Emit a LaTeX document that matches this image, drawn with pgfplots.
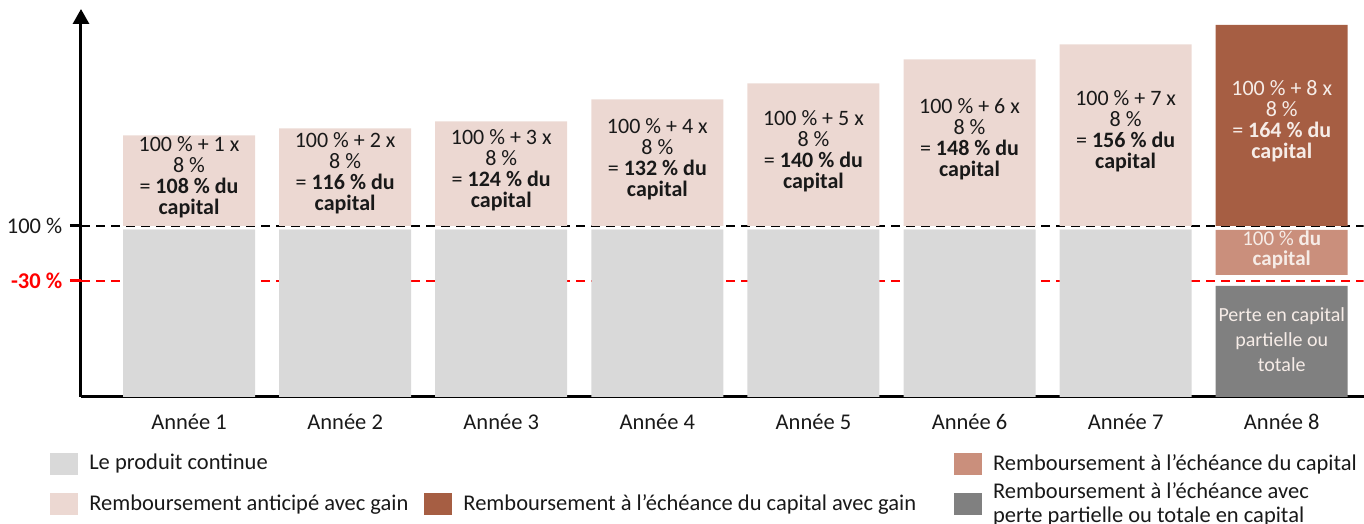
\documentclass[border=0pt]{standalone}
\usepackage{pgfplots}
\pgfplotsset{compat=1.18}
\usepackage{pgfplotstable}
\usepackage{fontspec}
\setmainfont{Carlito}
\usetikzlibrary{arrows.meta}
\definecolor{cgray}{RGB}{217,217,217}
\definecolor{cpink}{RGB}{236,216,210}
\definecolor{cbrown}{RGB}{166,94,67}
\definecolor{csalmon}{RGB}{202,143,124}
\definecolor{cdark}{RGB}{128,128,128}
\definecolor{ctxt}{RGB}{25,25,25}
\definecolor{cwhite}{RGB}{246,236,231}
\definecolor{cred}{RGB}{255,0,0}
\pgfplotstableread{
x lg dk g1 sa g2 pk br
1 167 0 4 0 0 90 0
2 167 0 4 0 0 97 0
3 167 0 4 0 0 104 0
4 167 0 4 0 0 126 0
5 167 0 4 0 0 142 0
6 167 0 4 0 0 166 0
7 167 0 4 0 0 181 0
8 0 111 11 45 4 0 201
}\bars
\tikzset{bt/.style={align=center, font=\fontsize{22}{21}\selectfont, text=ctxt}}
\begin{document}
\fontsize{22.5}{24}\selectfont
\begin{tikzpicture}
\useasboundingbox (0,0) rectangle (1364pt,524pt);
\begin{axis}[
  at={(81pt,127pt)}, anchor=south west,
  x=156.1pt, y=1pt,
  xmin=0.308, xmax=8.525, ymin=0, ymax=388,
  axis x line=bottom, axis y line=left,
  x axis line style={-, line width=3pt},
  y axis line style={-{Triangle[width=16pt,length=15pt]}, line width=3pt},
  tick align=outside,
  xtick={1,...,8},
  xticklabels={Année 1,Année 2,Année 3,Année 4,Année 5,Année 6,Année 7,Année 8},
  xtick style={draw=none},
  xticklabel style={text=ctxt, yshift=2pt},
  ytick={171}, yticklabels={100 \%},
  ytick style={draw=black, line width=3pt},
  major tick length=11pt,
  yticklabel style={text=ctxt},
  extra y ticks={116}, extra y tick labels={-30 \%},
  extra y tick style={ytick style={draw=cred, line width=3pt}, yticklabel style={text=cred, font=\bfseries}},
  bar width=132pt,
  legend columns=3,
  legend style={at={(axis cs:0.11,-55)}, anchor=north west, draw=none, fill=none,
    inner sep=0pt, row sep=5pt,
    cells={anchor=west, align=left, text=ctxt},
    /tikz/every odd column/.append style={column sep=9pt},
    /tikz/column 2/.style={column sep=14pt},
    /tikz/column 4/.style={column sep=36pt}},
  legend image code/.code={\fill[#1] (0pt,-11pt) rectangle (28pt,11pt);},
]
\addplot [cred, line width=1.5pt, dash pattern=on 9pt off 6pt, forget plot] coordinates {(0.308,116) (8.525,116)};
\addplot [black, line width=2pt, dash pattern=on 9pt off 6pt, forget plot] coordinates {(0.308,171) (8.525,171)};
\addplot [ybar, bar shift=0pt, stack plots=y, fill=cgray, draw=none, forget plot] table[x=x,y=lg]{\bars};
\addplot [ybar, bar shift=0pt, stack plots=y, fill=cdark, draw=none, forget plot] table[x=x,y=dk]{\bars};
\addplot [ybar, bar shift=0pt, stack plots=y, fill=none, draw=none, forget plot] table[x=x,y=g1]{\bars};
\addplot [ybar, bar shift=0pt, stack plots=y, fill=csalmon, draw=none, forget plot] table[x=x,y=sa]{\bars};
\addplot [ybar, bar shift=0pt, stack plots=y, fill=none, draw=none, forget plot] table[x=x,y=g2]{\bars};
\addplot [ybar, bar shift=0pt, stack plots=y, fill=cpink, draw=none, forget plot] table[x=x,y=pk]{\bars};
\addplot [ybar, bar shift=0pt, stack plots=y, fill=cbrown, draw=none, forget plot] table[x=x,y=br]{\bars};

\addlegendimage{fill=cgray, draw=none}\addlegendentry{Le produit continue}
\addlegendimage{empty legend}\addlegendentry{}
\addlegendimage{fill=csalmon, draw=none}\addlegendentry{Remboursement à l’échéance du capital}
\addlegendimage{fill=cpink, draw=none}\addlegendentry{Remboursement anticipé avec gain}
\addlegendimage{fill=cbrown, draw=none}\addlegendentry{Remboursement à l’échéance du capital avec gain}
\addlegendimage{fill=cdark, draw=none}\addlegendentry{Remboursement à l’échéance avec\\perte partielle ou totale en capital}

\node[bt] at (axis cs:1,220) {100 \% + 1 x\\8 \%\\= \textbf{108 \% du}\\\textbf{capital}};
\node[bt] at (axis cs:2,223.5) {100 \% + 2 x\\8 \%\\= \textbf{116 \% du}\\\textbf{capital}};
\node[bt] at (axis cs:3,227) {100 \% + 3 x\\8 \%\\= \textbf{124 \% du}\\\textbf{capital}};
\node[bt] at (axis cs:4,238) {100 \% + 4 x\\8 \%\\= \textbf{132 \% du}\\\textbf{capital}};
\node[bt] at (axis cs:5,246) {100 \% + 5 x\\8 \%\\= \textbf{140 \% du}\\\textbf{capital}};
\node[bt] at (axis cs:6,258) {100 \% + 6 x\\8 \%\\= \textbf{148 \% du}\\\textbf{capital}};
\node[bt] at (axis cs:7,265.5) {100 \% + 7 x\\8 \%\\= \textbf{156 \% du}\\\textbf{capital}};
\node[bt, text=cwhite] at (axis cs:8,275.5) {100 \% + 8 x\\8 \%\\= \textbf{164 \% du}\\\textbf{capital}};
\node[bt, text=cwhite, font=\fontsize{21}{20}\selectfont] at (axis cs:8,147) {100 \% \textbf{du}\\\textbf{capital}};
\node[bt, text=cwhite, font=\fontsize{20}{25}\selectfont] at (axis cs:8,57) {Perte en capital\\partielle ou\\totale};
\end{axis}
\end{tikzpicture}
\end{document}
